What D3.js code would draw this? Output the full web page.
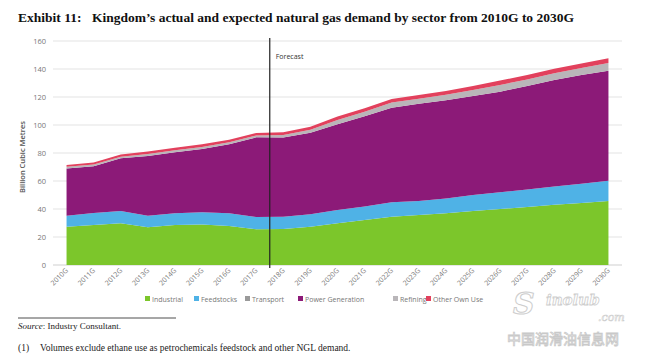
<!DOCTYPE html>
<html><head><meta charset="utf-8">
<script src="https://cdn.jsdelivr.net/npm/d3@7"></script>
<style>
html,body{margin:0;padding:0;background:#fff;}
svg{display:block;}
</style></head>
<body>
<svg id="c" width="645" height="359"></svg>
<script>
const years = ["2010G","2011G","2012G","2013G","2014G","2015G","2016G","2017G","2018G","2019G","2020G","2021G","2022G","2023G","2024G","2025G","2026G","2027G","2028G","2029G","2030G"];
const industrial = [27.4,28.6,29.8,26.9,28.6,29.0,27.9,25.5,25.7,27.4,29.8,32.1,34.5,35.7,36.9,38.5,40.0,41.5,43.0,44.3,45.7];
const feedstocks = [7.8,8.5,8.8,8.3,8.3,8.6,9.0,8.8,8.8,8.8,9.5,9.6,10.3,10.0,10.6,11.5,12.0,12.5,13.0,13.7,14.5];
const transport = [0,0,0,0,0,0,0,0,0,0,0,0,0,0,0,0,0,0,0,0,0];
const powerGeneration = [33.8,33.4,37.6,42.7,43.6,45.3,49.3,56.9,56.5,58.3,61.2,64.5,67.6,69.5,70.1,70.7,71.8,73.9,76.1,77.7,78.6];
const refining = [1.1,1.3,1.2,1.3,1.4,1.4,1.4,1.3,1.8,2.1,3.0,3.2,3.6,3.6,4.0,4.3,4.8,4.6,4.8,5.0,5.5];
const otherOwnUse = [1.3,1.5,1.6,1.8,1.9,1.9,1.9,1.8,2.0,2.2,2.5,2.5,2.6,2.6,2.7,2.9,3.1,3.2,3.3,3.3,3.3];
const seriesNames = ["Industrial","Feedstocks","Transport","Power Generation","Refining","Other Own Use"];
const seriesColors = ["#7cc62b","#4fb2e6","#9a9a9a","#8c1a78","#b9b6b9","#e2415d"];
const yTicks = [0,20,40,60,80,100,120,140,160];
const forecastStart = "2018G";

const table = years.map((y,i)=>({year:y,
  "Industrial":industrial[i],"Feedstocks":feedstocks[i],"Transport":transport[i],
  "Power Generation":powerGeneration[i],"Refining":refining[i],"Other Own Use":otherOwnUse[i]}));

const svg = d3.select("#c");
const x = d3.scaleBand().domain(years).range([53,622]);
const xc = d => x(d) + x.bandwidth()/2;
const y = d3.scaleLinear().domain([0,160]).range([265,41]);

// title
svg.append("text").attr("x",18).attr("y",22).attr("font-family","Liberation Serif, serif")
  .attr("font-weight","bold").attr("font-size",13.5).attr("fill","#111").text("Exhibit 11:");
svg.append("text").attr("x",92).attr("y",22).attr("font-family","Liberation Serif, serif")
  .attr("font-weight","bold").attr("font-size",13.5).attr("fill","#111")
  .text("Kingdom\u2019s actual and expected natural gas demand by sector from 2010G to 2030G");

// gridlines
svg.append("g").selectAll("line").data(yTicks).join("line")
  .attr("x1",53).attr("x2",622).attr("y1",d=>y(d)).attr("y2",d=>y(d))
  .attr("stroke",d=>d===0?"#cfcfcf":"#e3e3e3").attr("stroke-width",1);

// y labels
const yAxis = d3.axisLeft(y).tickValues(yTicks).tickSize(0).tickPadding(0);
const ya = svg.append("g").attr("transform","translate(46,0)").call(yAxis);
ya.select(".domain").remove();
ya.selectAll("text").attr("font-family","Open Sans, sans-serif").attr("font-size",7.5).attr("fill","#777");

// y title
svg.append("text").attr("transform","translate(25,157) rotate(-90)").attr("text-anchor","middle")
  .attr("font-family","Open Sans, sans-serif").attr("font-weight","600").attr("font-size",7.5)
  .attr("fill","#555").text("Billion Cubic Metres");

// stack
const stack = d3.stack().keys(seriesNames);
const layers = stack(table);
const area = d3.area().x(d=>xc(d.data.year)).y0(d=>y(d[0])).y1(d=>y(d[1]));
svg.append("g").selectAll("path").data(layers).join("path")
  .attr("d",area).attr("fill",(d,i)=>seriesColors[i]);

// x axis labels
const xAxis = d3.axisBottom(x).tickSize(0).tickPadding(0);
const xa = svg.append("g").attr("transform","translate(0,265)").call(xAxis);
xa.select(".domain").remove();
xa.selectAll("text").attr("font-family","Open Sans, sans-serif").attr("font-size",7).attr("fill","#777")
  .attr("text-anchor","end").attr("dy",0).attr("transform","translate(2,6) rotate(-45)");

// forecast line
const fx = x(forecastStart);
svg.append("line").attr("x1",fx).attr("x2",fx).attr("y1",38).attr("y2",268)
  .attr("stroke","#222").attr("stroke-width",1.2);
svg.append("text").attr("x",fx+6).attr("y",59).attr("font-family","Open Sans, sans-serif")
  .attr("font-size",7).attr("fill","#333").text("Forecast");

// legend
const legendX = [147,196,247,300,395,428];
const lg = svg.append("g").selectAll("g").data(seriesNames).join("g")
  .attr("transform",(d,i)=>`translate(${legendX[i]},299)`);
lg.append("rect").attr("x",-2).attr("y",-3).attr("width",5).attr("height",5).attr("fill",(d,i)=>seriesColors[i]);
lg.append("text").attr("x",5).attr("y",2.5).attr("font-family","Open Sans, sans-serif")
  .attr("font-size",7).attr("fill","#777").text(d=>d);

// footnotes
svg.append("line").attr("x1",18).attr("x2",176).attr("y1",318).attr("y2",318).attr("stroke","#222").attr("stroke-width",0.8);
const src = svg.append("text").attr("x",18).attr("y",329).attr("font-family","Liberation Serif, serif")
  .attr("font-size",9).attr("fill","#222");
src.append("tspan").attr("font-style","italic").text("Source");
src.append("tspan").text(": Industry Consultant.");
svg.append("text").attr("x",18).attr("y",351).attr("font-family","Liberation Serif, serif")
  .attr("font-size",9.5).attr("fill","#222").text("(1)");
svg.append("text").attr("x",40).attr("y",351).attr("font-family","Liberation Serif, serif")
  .attr("font-size",9.5).attr("fill","#222").text("Volumes exclude ethane use as petrochemicals feedstock and other NGL demand.");

// watermark
const wm = svg.append("g").attr("opacity",0.9);
wm.append("text").attr("x",513).attr("y",314).attr("font-family","DejaVu Serif, serif").attr("font-style","italic")
  .attr("font-weight","bold").attr("font-size",30).attr("fill","#fff").attr("stroke","#c8c8c8").attr("stroke-width",1).text("S");
wm.append("text").attr("x",546).attr("y",305).attr("font-family","DejaVu Serif, serif").attr("font-style","italic")
  .attr("font-weight","bold").attr("font-size",15).attr("fill","#fff").attr("stroke","#c8c8c8").attr("stroke-width",0.8).text("inolub");
wm.append("text").attr("x",598).attr("y",321).attr("font-family","DejaVu Serif, serif").attr("font-style","italic")
  .attr("font-size",11).attr("fill","#fff").attr("stroke","#c8c8c8").attr("stroke-width",0.6).text(".com");
wm.append("text").attr("x",507).attr("y",344).attr("font-family","Noto Sans CJK SC, sans-serif")
  .attr("font-size",14).attr("fill","#fff").attr("stroke","#c4c4c4").attr("stroke-width",0.8).text("中国润滑油信息网");
</script>
</body></html>
